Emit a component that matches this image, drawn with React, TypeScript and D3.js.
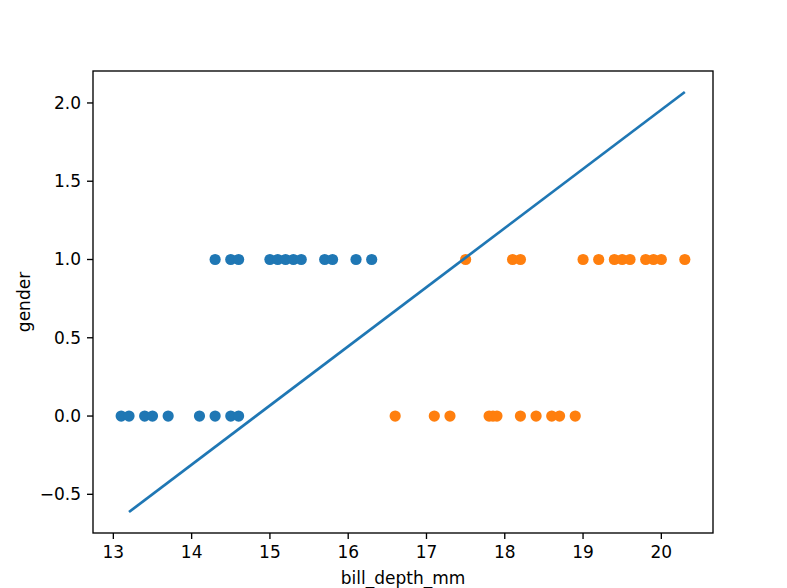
import React from 'react';
import * as d3 from 'd3';

// penguins: bill depth vs gender (two species clusters) + fitted line
const blueOneX = [14.3, 14.5, 14.6, 15.0, 15.1, 15.2, 15.3, 15.4, 15.7, 15.8, 16.1, 16.3];
const blueZeroX = [13.1, 13.2, 13.4, 13.5, 13.7, 14.1, 14.3, 14.5, 14.6];
const orangeOneX = [17.5, 18.1, 18.2, 19.0, 19.2, 19.4, 19.5, 19.6, 19.8, 19.9, 20.0, 20.3];
const orangeZeroX = [16.6, 17.1, 17.3, 17.8, 17.85, 17.9, 18.2, 18.4, 18.6, 18.7, 18.9];

// regression line (predicted values at the ends of the test range)
const fitX = [13.2, 20.3];
const fitY = [-0.613, 2.07];

const xTicks = [13, 14, 15, 16, 17, 18, 19, 20];
const yTicks = [-0.5, 0.0, 0.5, 1.0, 1.5, 2.0];

const W = 787;
const H = 588;
const margin = { left: 93, right: 74, top: 71, bottom: 55 };

const BLUE = '#1f77b4';
const ORANGE = '#ff7f0e';
const FONT = 'DejaVu Sans, sans-serif';

const pad = (lo: number, hi: number) => {
  const m = (hi - lo) * 0.05;
  return [lo - m, hi + m];
};

const App: React.FC = () => {
  const allX = [...blueOneX, ...blueZeroX, ...orangeOneX, ...orangeZeroX, ...fitX];
  const allY = [0, 1, ...fitY];

  const x = d3
    .scaleLinear()
    .domain(pad(d3.min(allX)!, d3.max(allX)!))
    .range([margin.left, W - margin.right]);
  const y = d3
    .scaleLinear()
    .domain(pad(d3.min(allY)!, d3.max(allY)!))
    .range([H - margin.bottom, margin.top]);

  const line = d3
    .line<number>()
    .x((d) => x(d))
    .y((_, i) => y(fitY[i]));

  const fmt = (v: number) => v.toFixed(1).replace('-', '\u2212');
  const r = 5.6;

  const dots = (xs: number[], val: number, color: string, key: string) =>
    xs.map((v, i) => <circle key={key + i} cx={x(v)} cy={y(val)} r={r} fill={color} />);

  const x0 = margin.left;
  const x1 = W - margin.right;
  const y0 = H - margin.bottom;
  const y1 = margin.top;

  return (
    <svg
      width={W}
      height={H}
      style={{ position: 'fixed', left: 0, top: 0, background: '#fff' }}
      fontFamily={FONT}
    >
      <rect x={0} y={0} width={W} height={H} fill="#fff" />

      {dots(blueOneX, 1, BLUE, 'b1')}
      {dots(blueZeroX, 0, BLUE, 'b0')}
      {dots(orangeOneX, 1, ORANGE, 'o1')}
      {dots(orangeZeroX, 0, ORANGE, 'o0')}

      <path d={line(fitX) || ''} fill="none" stroke={BLUE} strokeWidth={2.7} />

      {/* spines */}
      <rect x={x0} y={y1} width={x1 - x0} height={y0 - y1} fill="none" stroke="#000" strokeWidth={1.35} />

      {/* x ticks */}
      {xTicks.map((t) => (
        <g key={'xt' + t}>
          <line x1={x(t)} x2={x(t)} y1={y0} y2={y0 + 6} stroke="#000" strokeWidth={1.35} />
          <text x={x(t)} y={y0 + 12} dy="0.76em" textAnchor="middle" fontSize={17} fill="#000">
            {t}
          </text>
        </g>
      ))}

      {/* y ticks */}
      {yTicks.map((t) => (
        <g key={'yt' + t}>
          <line x1={x0 - 6} x2={x0} y1={y(t)} y2={y(t)} stroke="#000" strokeWidth={1.35} />
          <text x={x0 - 12} y={y(t)} dy="0.35em" textAnchor="end" fontSize={17} fill="#000">
            {fmt(t)}
          </text>
        </g>
      ))}

      <text x={(x0 + x1) / 2} y={H - 4} textAnchor="middle" fontSize={17} fill="#000">
        bill_depth_mm
      </text>
      <text
        transform={`translate(${30},${(y0 + y1) / 2}) rotate(-90)`}
        textAnchor="middle"
        fontSize={17}
        fill="#000"
      >
        gender
      </text>
    </svg>
  );
};

export default App;
